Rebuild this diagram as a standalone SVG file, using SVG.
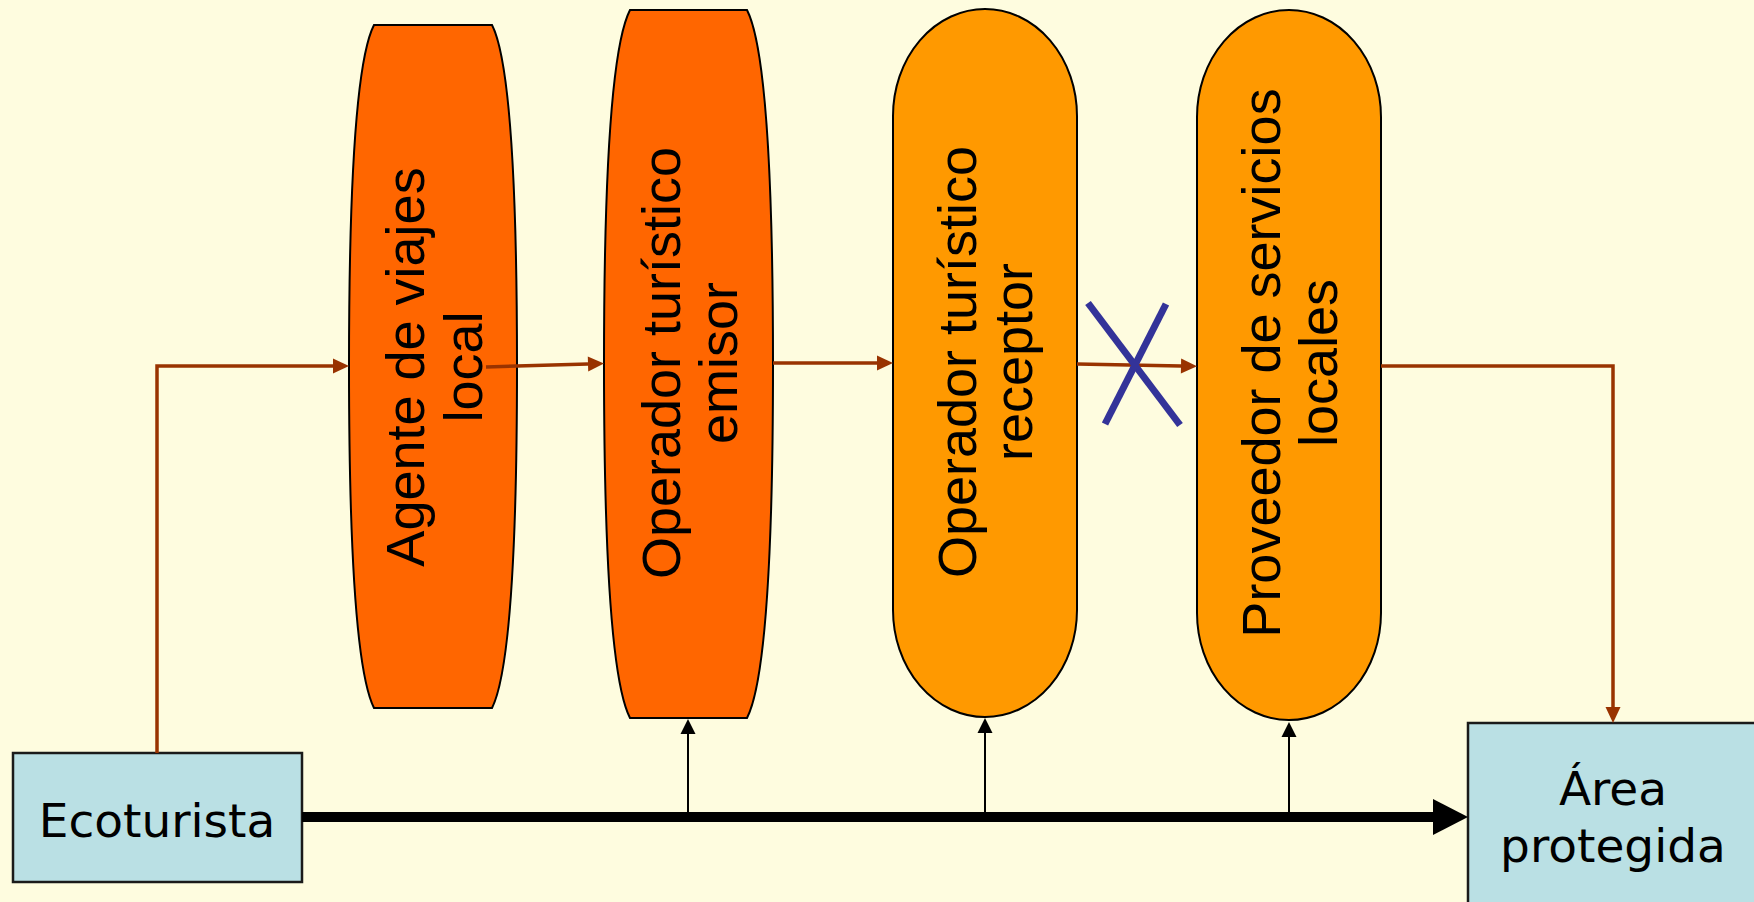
<svg xmlns="http://www.w3.org/2000/svg" width="1754" height="902" viewBox="0 0 1754 902">
<defs>
<style>
.nd{stroke:#000;stroke-width:2}
.dark{fill:#FF6600}
.light{fill:#FF9900}
.lbl{font-family:"Liberation Sans",Arial,sans-serif;font-size:54px;fill:#000;text-anchor:middle}
.box{fill:#BAE0E4;stroke:#1a1a1a;stroke-width:2.5}
.blbl{font-family:"DejaVu Sans",Verdana,sans-serif;font-size:47px;fill:#000;text-anchor:middle}
.br{fill:none;stroke:#993300;stroke-width:3.5}
.bk{fill:none;stroke:#000;stroke-width:2}
</style>
<marker id="abr" markerUnits="userSpaceOnUse" markerWidth="16" markerHeight="15" refX="0" refY="7.5" orient="auto" overflow="visible">
<path d="M0,0 L16,7.5 L0,15 Z" fill="#993300"/>
</marker>
<marker id="abk" markerUnits="userSpaceOnUse" markerWidth="15" markerHeight="15" refX="0" refY="7.5" orient="auto" overflow="visible">
<path d="M0,0 L15,7.5 L0,15 Z" fill="#000"/>
</marker>
<marker id="abig" markerUnits="userSpaceOnUse" markerWidth="35" markerHeight="36" refX="3" refY="18" orient="auto" overflow="visible">
<path d="M0,0 L35,18 L0,36 Z" fill="#000"/>
</marker>
</defs>
<rect x="0" y="0" width="1754" height="902" fill="#FEFCDF"/>

<g id="agente">
<path class="nd dark" d="M374,25 H492 C510,60 517,180 517,366 C517,552 510,672 492,708 H374 C356,672 349,552 349,366 C349,180 356,60 374,25 Z"/>
<text class="lbl" transform="translate(424,367) rotate(-90)">Agente de viajes</text>
<text class="lbl" transform="translate(482,367) rotate(-90)">local</text>
</g>

<g id="emisor">
<path class="nd dark" d="M630,10 H747 C765,45 773,170 773,364 C773,558 765,683 747,718 H630 C612,683 604,558 604,364 C604,170 612,45 630,10 Z"/>
<text class="lbl" transform="translate(680,363) rotate(-90)">Operador turístico</text>
<text class="lbl" transform="translate(737,363) rotate(-90)">emisor</text>
</g>

<g id="receptor">
<path class="nd light" d="M893,116 A92,107 0 0 1 1077,116 L1077,610 A92,107 0 0 1 893,610 Z"/>
<text class="lbl" transform="translate(976,362) rotate(-90)">Operador turístico</text>
<text class="lbl" transform="translate(1032,362) rotate(-90)">receptor</text>
</g>

<g id="proveedor">
<path class="nd light" d="M1197,117 A92,107 0 0 1 1381,117 L1381,613 A92,107 0 0 1 1197,613 Z"/>
<text class="lbl" transform="translate(1280,363) rotate(-90)">Proveedor de servicios</text>
<text class="lbl" transform="translate(1337,363) rotate(-90)">locales</text>
</g>

<g id="ecoturista">
<rect class="box" x="13" y="753" width="289" height="129"/>
<text class="blbl" x="157" y="837">Ecoturista</text>
</g>

<g id="area">
<rect class="box" x="1468" y="723" width="300" height="200"/>
<text class="blbl" x="1613" y="805">Área</text>
<text class="blbl" x="1613" y="862">protegida</text>
</g>

<g id="connectors">
<path class="br" d="M157,753 V366 H333" marker-end="url(#abr)"/>
<path class="br" d="M486,367 L588,364" marker-end="url(#abr)"/>
<path class="br" d="M773,363 H877" marker-end="url(#abr)"/>
<path class="br" d="M1077,364 L1181,366" marker-end="url(#abr)"/>
<path class="br" d="M1381,366 H1613 V707" marker-end="url(#abr)"/>
<path d="M302,817 H1436" fill="none" stroke="#000" stroke-width="10" marker-end="url(#abig)"/>
<path class="bk" d="M688,814 V734" marker-end="url(#abk)"/>
<path class="bk" d="M985,814 V733" marker-end="url(#abk)"/>
<path class="bk" d="M1289,814 V737" marker-end="url(#abk)"/>
<g id="cross" stroke="#333399" stroke-width="7" fill="none">
<line x1="1088" y1="303" x2="1180" y2="425"/>
<line x1="1166" y1="304" x2="1105" y2="424"/>
</g>
</g>
</svg>
